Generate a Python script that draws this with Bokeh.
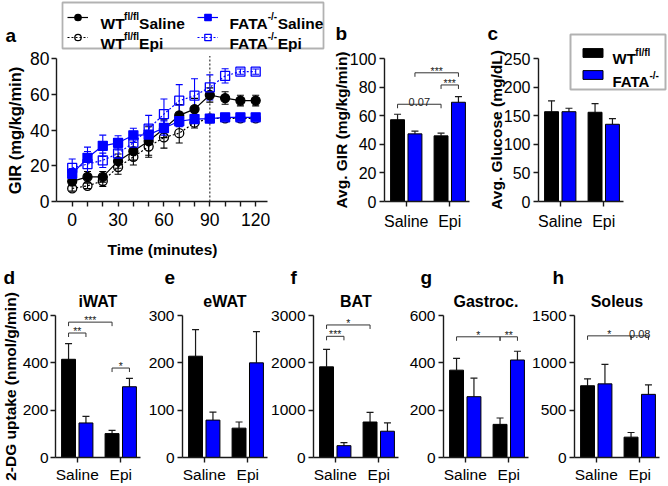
import math
from bokeh.plotting import figure
from bokeh.layouts import row, column
from bokeh.models import (Range1d, Label, Legend, LegendItem, BoxAnnotation,
                          Whisker, TeeHead, ColumnDataSource, FixedTicker)
from bokeh.core.properties import value
from bokeh.embed import file_html
from bokeh.resources import INLINE

# ---------------- data ----------------
time_min = [0, 10, 20, 30, 40, 50, 60, 70, 80, 90, 100, 110, 120]
gir_wt_saline = [11.3, 13.8, 13.8, 22.6, 28.2, 33.9, 40.8, 48.3, 51.8, 59.7, 58.0, 56.6, 56.6]
gir_wt_saline_err = [2.0, 3.0, 3.0, 4.0, 5.0, 8.0, 5.0, 6.0, 6.0, 4.0, 3.5, 3.0, 3.0]
gir_wt_epi = [7.3, 8.8, 11.5, 19.3, 25.0, 30.8, 35.9, 38.3, 44.2, 46.6, 46.6, 46.6, 46.6]
gir_wt_epi_err = [1.5, 1.5, 3.0, 4.0, 4.5, 6.0, 6.0, 5.5, 3.0, 1.5, 1.0, 1.0, 1.0]
gir_fata_saline = [15.5, 24.5, 31.2, 32.9, 37.1, 37.5, 41.2, 45.0, 46.2, 46.5, 47.2, 47.2, 47.2]
gir_fata_saline_err = [3.0, 6.0, 6.0, 4.0, 4.0, 5.0, 4.0, 3.0, 2.0, 1.5, 1.0, 1.0, 1.0]
gir_fata_epi = [18.8, 21.0, 23.1, 26.9, 33.0, 40.8, 49.0, 56.5, 59.3, 64.0, 70.4, 72.8, 72.8]
gir_fata_epi_err = [5.0, 7.0, 4.0, 5.0, 5.0, 7.5, 8.5, 9.0, 9.5, 7.0, 4.0, 1.5, 1.5]
epi_start_min = 90
time_ticks = [0, 30, 60, 90, 120]
time_minor_ticks = [10, 20, 40, 50, 70, 80, 100, 110]
gir_ticks = [0, 20, 40, 60, 80]

categories = ["Saline", "Epi"]
avg_gir_wt, avg_gir_wt_err = [57.2, 45.9], [3.8, 1.9]
avg_gir_fata, avg_gir_fata_err = [47.3, 69.4], [1.9, 4.0]
glucose_wt, glucose_wt_err = [157, 156], [19, 15]
glucose_fata, glucose_fata_err = [157, 135], [6, 10]
iwat_wt, iwat_wt_err = [415, 101], [66, 14]
iwat_fata, iwat_fata_err = [146, 299], [28, 35]
ewat_wt, ewat_wt_err = [214, 62], [56, 13]
ewat_fata, ewat_fata_err = [79, 200], [17, 66]
bat_wt, bat_wt_err = [1915, 750], [370, 205]
bat_fata, bat_fata_err = [250, 555], [65, 175]
gastroc_wt, gastroc_wt_err = [369, 140], [50, 27]
gastroc_fata, gastroc_fata_err = [257, 412], [78, 37]
soleus_wt, soleus_wt_err = [758, 215], [73, 49]
soleus_fata, soleus_fata_err = [778, 667], [205, 100]

# significance brackets: (bar from, bar to, level, text)
brackets_b = [("S_F", "E_F", 90, "***"), ("E_WT", "E_F", 81.5, "***"), ("S_WT", "E_WT", 68, "0.07")]
brackets_d = [("S_WT", "E_WT", 572, "***"), ("S_WT", "S_F", 526, "**"), ("E_WT", "E_F", 378, "*")]
brackets_f = [("S_WT", "E_WT", 2800, "*"), ("S_WT", "S_F", 2560, "***")]
brackets_g = [("S_WT", "E_WT", 510, "*"), ("E_WT", "E_F", 510, "**")]
brackets_h = [("S_WT", "E_WT", 1285, "*"), ("E_WT", "E_F", 1285, "0.08")]

# ---------------- styling helpers ----------------
BLUE = "#0000FF"
INK = "#1a1a1a"
FONT = "Liberation Sans"
BAR_OFF = 0.2
BAR_W = 0.32
X_LO, X_HI = -0.5, 1.45
UNIT = 43.5  # px per category
POS = {"S_WT": -BAR_OFF, "S_F": BAR_OFF, "E_WT": 1 - BAR_OFF, "E_F": 1 + BAR_OFF}

BOLD_W = {'W': 944, 'T': 611, 'F': 611, 'A': 722, 'S': 667, 'a': 556, 'l': 278, 'i': 278,
          'n': 611, 'e': 556, 'E': 667, 'p': 611, 'f': 333, '/': 278, '-': 333, ' ': 278}


def wb(s, size):
    return sum(BOLD_W[c] for c in s) / 1000.0 * size


BOX = {}


def make_fig(box, xmap, ymap):
    px0, py0, px1, py1 = box
    uL, L, uR, R = xmap
    kx = (R - L) / (uR - uL)
    vB, B, vT, T = ymap
    ky = (B - T) / (vT - vB)
    xr = Range1d(uL - (L - px0) / kx, uL + (px1 - L) / kx)
    yr = Range1d(vB - (py1 - B) / ky, vB + (B - py0) / ky)
    p = figure(width=px1 - px0, height=py1 - py0, x_range=xr, y_range=yr,
               output_backend="svg", toolbar_location=None, min_border=0)
    p.xgrid.visible = False
    p.ygrid.visible = False
    p.outline_line_color = None
    BOX[p.id] = (px0, py0, px1, py1, kx, ky)
    return p


def style_axes(p, tick_size, xb, yb, ystand=3, xstand=4):
    for ax in (p.xaxis[0], p.yaxis[0]):
        ax.axis_line_color = INK
        ax.axis_line_width = 1.4
        ax.major_tick_line_color = INK
        ax.major_tick_line_width = 1.4
        ax.major_tick_out = 5
        ax.major_tick_in = 0
        ax.minor_tick_line_color = None
        ax.major_label_text_font = FONT
        ax.major_label_text_font_size = f"{tick_size:.1f}px"
        ax.major_label_text_color = "black"
    p.xaxis[0].fixed_location = yb[0]
    p.yaxis[0].fixed_location = xb[0]
    p.xaxis[0].bounds = xb
    p.yaxis[0].bounds = yb
    p.yaxis[0].major_label_standoff = ystand
    p.xaxis[0].major_label_standoff = xstand


def lab(p, x, y, text, size, bold=True, align="left", baseline="alphabetic", angle=0.0,
        color="black"):
    px0, py0, px1, py1, kx, ky = BOX[p.id]
    p.add_layout(Label(x=x - px0, y=py1 - y, x_units="screen", y_units="screen", text=text,
                       text_font=FONT, text_font_size=f"{size:.1f}px",
                       text_font_style="bold" if bold else "normal", angle=angle,
                       text_align=align, text_baseline=baseline, text_color=color))


def box_screen(p, l, t, r, b, lw=1.8):
    px0, py0, px1, py1, kx, ky = BOX[p.id]
    p.add_layout(BoxAnnotation(left=l - px0, right=r - px0, top=py1 - t, bottom=py1 - b,
                               left_units="screen", right_units="screen",
                               top_units="screen", bottom_units="screen",
                               fill_color=None, fill_alpha=0, line_color="black", line_width=lw))


def bar_panel(box, axis_x, top_y, bottom_y, ymax, yticks, wt, wt_err, fata, fata_err, brackets,
              letter, letter_xy, title=None, title_y=None, ylab=None, ylab_x=None,
              tick_size=15.5, ystand=3, xstand=3):
    c0 = axis_x - X_LO * UNIT
    p = make_fig(box, (0, c0, 1, c0 + UNIT), (0, bottom_y, ymax, top_y))
    xs_wt = [i - BAR_OFF for i in range(len(categories))]
    xs_f = [i + BAR_OFF for i in range(len(categories))]
    for xs, vals, errs, col in ((xs_wt, wt, wt_err, "black"), (xs_f, fata, fata_err, BLUE)):
        src = ColumnDataSource(dict(x=xs, top=vals, up=[v + e for v, e in zip(vals, errs)]))
        p.add_layout(Whisker(source=src, base="x", lower="top", upper="up", dimension="height",
                             line_color=INK, line_width=1.2, lower_head=None,
                             upper_head=TeeHead(size=7, line_color=INK, line_width=1.2),
                             level="underlay"))
        p.vbar(x="x", top="top", width=BAR_W, source=src, fill_color=col,
               line_color="black", line_width=1)
    px0, py0, px1, py1, kx, ky = BOX[p.id]
    drop = 4.0 / ky
    for a, b_, yv, txt in brackets:
        x1, x2 = POS[a], POS[b_]
        p.line([x1, x1, x2, x2], [yv - drop, yv, yv, yv - drop], line_color="#333333",
               line_width=1)
        p.text(x=[(x1 + x2) / 2], y=[yv], text=[txt], text_font=value(FONT),
               text_font_size=f"{(11 if txt[0] != '*' else 10.5):.1f}px",
               text_align="center", text_baseline="alphabetic", y_offset=-2,
               text_color="#222222")
    p.xaxis[0].ticker = FixedTicker(ticks=list(range(len(categories))))
    p.xaxis[0].major_label_overrides = {i: c for i, c in enumerate(categories)}
    p.yaxis[0].ticker = FixedTicker(ticks=yticks)
    style_axes(p, tick_size, (X_LO, X_HI), (0, ymax), ystand=ystand, xstand=xstand)
    lab(p, letter_xy[0], letter_xy[1], letter, 19)
    if title:
        lab(p, axis_x + (X_HI - X_LO) * UNIT / 2, title_y, title, 16, align="center")
    if ylab:
        lab(p, ylab_x, (top_y + bottom_y) / 2, ylab, 15.5, align="center", baseline="middle",
            angle=math.pi / 2)
    return p


# ---------------- panel a ----------------
pa = make_fig((0, 0, 328, 258), (0, 71.7, 120, 255.2), (0, 201, 80, 58.3))
series = [
    (gir_wt_saline, gir_wt_saline_err, "black", "solid", "circle", "black"),
    (gir_wt_epi, gir_wt_epi_err, "black", "2 2", "circle", None),
    (gir_fata_saline, gir_fata_saline_err, BLUE, "solid", "square", BLUE),
    (gir_fata_epi, gir_fata_epi_err, BLUE, "2 2", "square", None),
]
pa.segment(x0=[epi_start_min], y0=[0], x1=[epi_start_min], y1=[gir_ticks[-1] + 1.5],
           line_color="#444444", line_width=1.3, line_dash="2 2")
rends = []
for vals, errs, col, dash, mk, fill in series:
    src = ColumnDataSource(dict(t=time_min, y=vals,
                                lo=[v - e for v, e in zip(vals, errs)],
                                hi=[v + e for v, e in zip(vals, errs)]))
    pa.add_layout(Whisker(source=src, base="t", lower="lo", upper="hi", dimension="height",
                          line_color=col, line_width=1.1,
                          lower_head=TeeHead(size=7, line_color=col, line_width=1.1),
                          upper_head=TeeHead(size=7, line_color=col, line_width=1.1)))
    ln = pa.line("t", "y", source=src, line_color=col, line_width=1.2, line_dash=dash)
    sc = pa.scatter("t", "y", source=src, marker=mk, size=9, fill_color=fill,
                    line_color=col, line_width=1.3)
    rends.append((ln, sc))
pa.xaxis[0].ticker = FixedTicker(ticks=time_ticks, minor_ticks=time_minor_ticks)
pa.yaxis[0].ticker = FixedTicker(ticks=gir_ticks)
style_axes(pa, 17.5, (-10.3, 127.7), (0, 80), ystand=2, xstand=6)
pa.xaxis[0].minor_tick_line_color = INK
pa.xaxis[0].minor_tick_line_width = 1.4
pa.xaxis[0].minor_tick_out = 5
pa.xaxis[0].minor_tick_in = 0
lab(pa, 5, 35, "a", 19)
lab(pa, 162, 249, "Time (minutes)", 15.5, align="center")
lab(pa, 14, 130, "GIR (mg/kg/min)", 16.5, align="center", baseline="middle", angle=math.pi / 2)

# legend of panel a (box, glyph samples, texts with superscripts)
box_screen(pa, 62, 2, 323, 48)
pxa0, pya0, pxa1, pya1, _, _ = BOX[pa.id]
gh, sp = 16, 4
for colx, pair in ((67, rends[0:2]), (197, rends[2:4])):
    top = 17 - gh / 2
    bottom = top + 2 * gh + sp
    leg = Legend(items=[LegendItem(label=" ", renderers=list(pair[0])),
                        LegendItem(label=" ", renderers=list(pair[1]))],
                 location=(colx - pxa0, pya1 - bottom), orientation="vertical",
                 glyph_width=21, glyph_height=gh, spacing=sp, padding=0, margin=0,
                 border_line_color=None, background_fill_alpha=0,
                 label_text_font_size="1px", label_width=1, label_height=1, label_standoff=0)
    pa.add_layout(leg)
FS, FSS = 15.5, 10
for base_y, word in ((22.5, "Saline"), (42.5, "Epi")):
    x = 100
    lab(pa, x, base_y, "WT", FS)
    x += wb("WT", FS) - 0.5
    lab(pa, x, base_y - 6.5, "fl/fl", FSS)
    x += wb("fl/fl", FSS)
    lab(pa, x, base_y, word, FS)
    x = 229
    lab(pa, x, base_y, "FATA", FS)
    x += wb("FATA", FS) - 0.2 * FS
    lab(pa, x, base_y - 6.5, "-/-", FSS)
    x += wb("-/-", FSS) + 0.5
    lab(pa, x, base_y, word, FS)

# ---------------- panels b, c ----------------
pb = bar_panel((328, 0, 475, 258), 384, 58, 201, 100, [0, 20, 40, 60, 80, 100],
               avg_gir_wt, avg_gir_wt_err, avg_gir_fata, avg_gir_fata_err, brackets_b,
               "b", (335, 33), ylab="Avg. GIR (mg/kg/min)", ylab_x=341, tick_size=16,
               xstand=6)
pc = bar_panel((475, 0, 667, 258), 538, 58, 201, 250, [0, 50, 100, 150, 200, 250],
               glucose_wt, glucose_wt_err, glucose_fata, glucose_fata_err, [],
               "c", (487, 33), ylab="Avg. Glucose (mg/dL)", ylab_x=496, tick_size=16,
               xstand=6)

# legend of panel c
box_screen(pc, 570, 34, 665, 89, lw=2)
pxc0, pyc0, pxc1, pyc1, _, _ = BOX[pc.id]
cgh, csp = 11, 11
ctop = 52.5 - cgh / 2
cbot = ctop + 2 * cgh + csp
bars_c = [r for r in pc.renderers if hasattr(r, "glyph") and type(r.glyph).__name__ == "VBar"]
legc = Legend(items=[LegendItem(label=" ", renderers=[bars_c[0]]),
                     LegendItem(label=" ", renderers=[bars_c[1]])],
              location=(579.5 - pxc0, pyc1 - cbot), orientation="vertical",
              glyph_width=25, glyph_height=cgh, spacing=csp, padding=0, margin=0,
              border_line_color=None, background_fill_alpha=0,
              label_text_font_size="1px", label_width=1, label_height=1, label_standoff=0)
pc.add_layout(legc)
x = 612
lab(pc, x, 58, "WT", 15)
lab(pc, x + wb("WT", 15) - 0.5, 51.5, "fl/fl", 10)
lab(pc, x, 81, "FATA", 15)
lab(pc, x + wb("FATA", 15) - 3, 74.5, "-/-", 10)

# ---------------- bottom row ----------------
T2, B2, TT = 315, 457, 301
pd_ = bar_panel((0, 258, 143, 485), 55, T2, B2, 600, [0, 200, 400, 600],
                iwat_wt, iwat_wt_err, iwat_fata, iwat_fata_err, brackets_d,
                "d", (3, 277), title="iWAT", title_y=TT, ylab="2-DG uptake (nmol/g/min)",
                ylab_x=10, ystand=2)
pe = bar_panel((143, 258, 270, 485), 182, T2, B2, 300, [0, 100, 200, 300],
               ewat_wt, ewat_wt_err, ewat_fata, ewat_fata_err, [],
               "e", (164, 277), title="eWAT", title_y=TT)
pf = bar_panel((270, 258, 401, 485), 313, T2, B2, 3000, [0, 1000, 2000, 3000],
               bat_wt, bat_wt_err, bat_fata, bat_fata_err, brackets_f,
               "f", (290, 277), title="BAT", title_y=TT)
pg = bar_panel((401, 258, 530, 485), 443, T2, B2, 600, [0, 200, 400, 600],
               gastroc_wt, gastroc_wt_err, gastroc_fata, gastroc_fata_err, brackets_g,
               "g", (420, 277), title="Gastroc.", title_y=TT)
ph = bar_panel((530, 258, 667, 485), 574, T2, B2, 1500, [0, 500, 1000, 1500],
               soleus_wt, soleus_wt_err, soleus_fata, soleus_fata_err, brackets_h,
               "h", (552, 277), title="Soleus", title_y=TT)

layout = column(row(pa, pb, pc, spacing=0), row(pd_, pe, pf, pg, ph, spacing=0), spacing=0)
open("out.html", "w").write(file_html(layout, INLINE))
